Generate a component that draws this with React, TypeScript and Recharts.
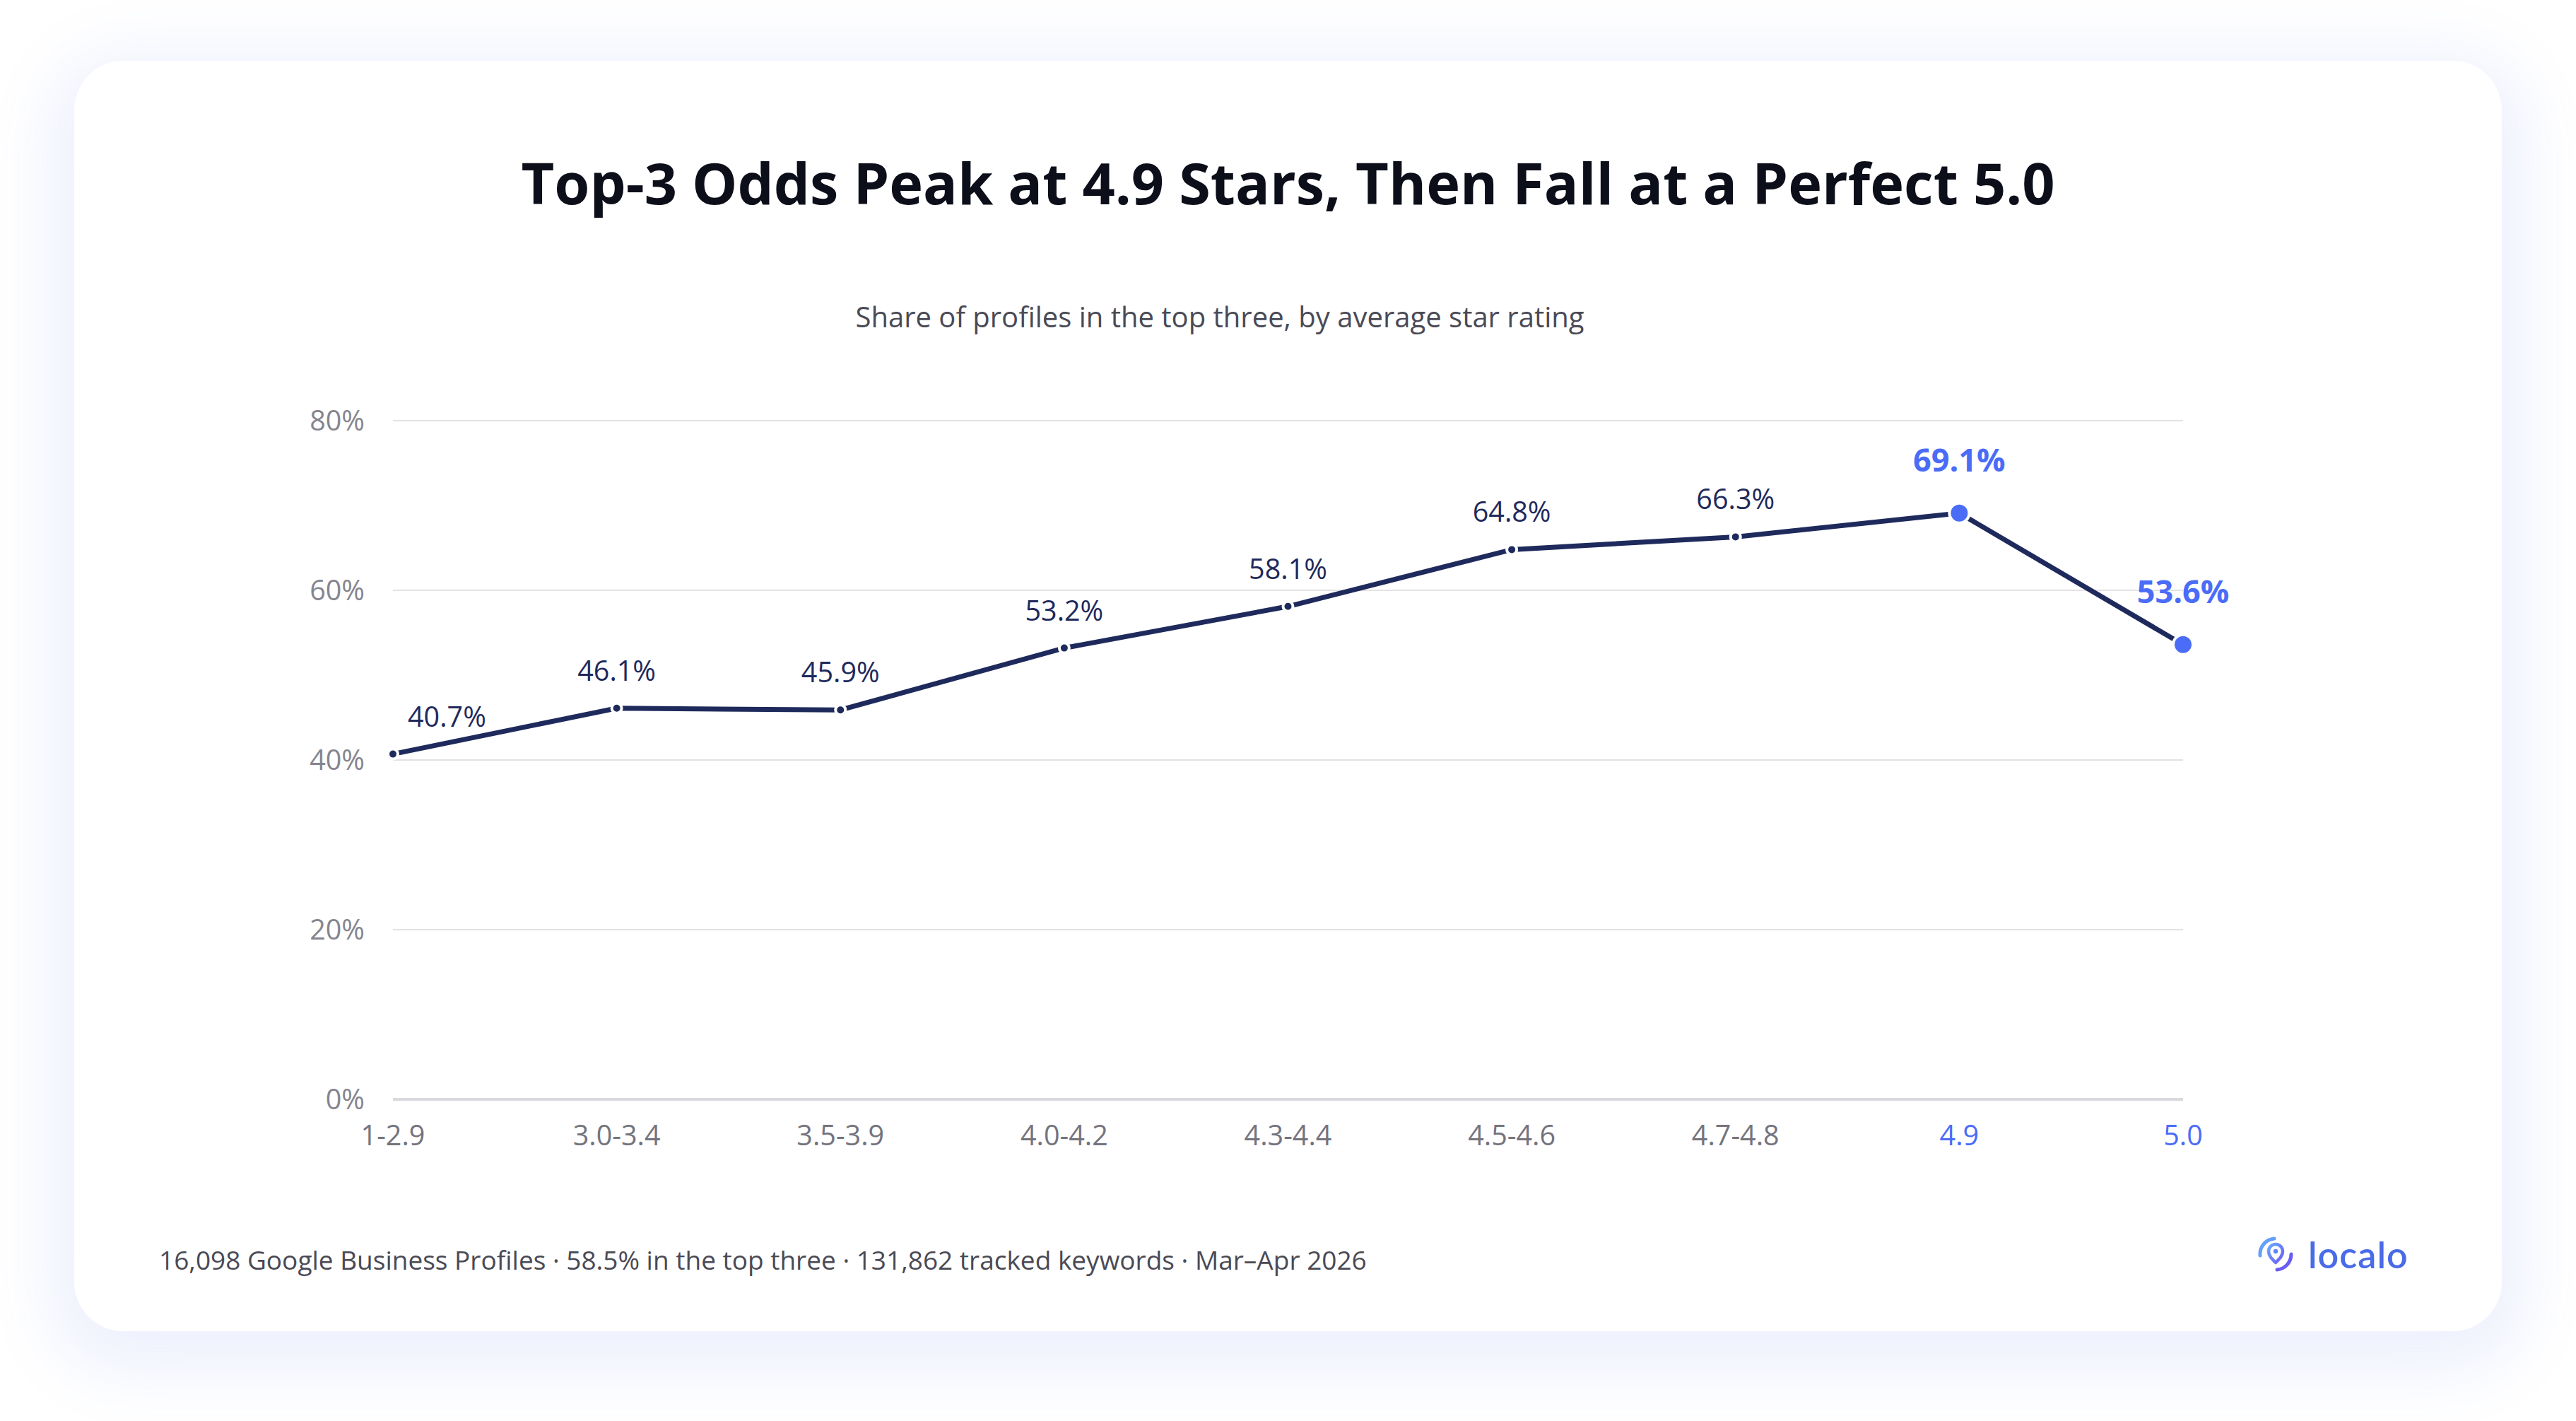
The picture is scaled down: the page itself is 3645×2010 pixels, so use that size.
import { LineChart, Line, XAxis, YAxis, CartesianGrid, LabelList } from "recharts";

// share of profiles in the top three, per star-rating bucket
const CATEGORIES = ["1-2.9", "3.0-3.4", "3.5-3.9", "4.0-4.2", "4.3-4.4", "4.5-4.6", "4.7-4.8", "4.9", "5.0"];
const SHARE = [40.7, 46.1, 45.9, 53.2, 58.1, 64.8, 66.3, 69.1, 53.6];
const HIGHLIGHTED = ["4.9", "5.0"];
const Y_TICKS = [0, 20, 40, 60, 80];

const TITLE = "Top-3 Odds Peak at 4.9 Stars, Then Fall at a Perfect 5.0";
const SUBTITLE = "Share of profiles in the top three, by average star rating";
const FOOTNOTE =
  "16,098 Google Business Profiles · 58.5% in the top three · 131,862 tracked keywords · Mar–Apr 2026";

const data = CATEGORIES.map((rating, i) => ({ rating, share: SHARE[i] }));

const NAVY = "#1f2a5c";
const BLUE = "#4a6cf7";
const FONT = "'Open Sans', Lato, sans-serif";

const W = 3645;
const H = 2010;

const isHot = (cat: string) => HIGHLIGHTED.includes(cat);

function XTick(props: any) {
  const { x, y, payload } = props;
  const hot = isHot(payload.value);
  return (
    <text
      x={x}
      y={y}
      dy={57}
      textAnchor="middle"
      fontFamily={FONT}
      fontSize={39.5}
      fill={hot ? BLUE : "#74747e"}
    >
      {payload.value}
    </text>
  );
}

function YTick(props: any) {
  const { x, y, payload } = props;
  return (
    <text
      x={x - 32}
      y={y}
      dy={14}
      textAnchor="end"
      fontFamily={FONT}
      fontSize={39.5}
      fill="#85858e"
    >
      {payload.value}%
    </text>
  );
}

function PointDot(props: any) {
  const { cx, cy, index, payload } = props;
  const hot = isHot(payload.rating);
  return (
    <circle
      key={`dot-${index}`}
      cx={cx}
      cy={cy}
      r={hot ? 14 : 7}
      fill={hot ? BLUE : NAVY}
      stroke="#fff"
      strokeWidth={4}
    />
  );
}

function PointLabel(props: any) {
  const x = props.x ?? props.viewBox?.x;
  const y = props.y ?? props.viewBox?.y;
  const { index, value } = props;
  const hot = isHot(CATEGORIES[index]);
  const first = index === 0;
  return (
    <text
      x={first ? x + 21 : x}
      y={hot ? y - 59 : y - 39}
      textAnchor={first ? "start" : "middle"}
      fontFamily={FONT}
      fontSize={hot ? 45 : 39.5}
      fontWeight={hot ? 700 : 500}
      fill={hot ? BLUE : NAVY}
    >
      {value.toFixed(1)}%
    </text>
  );
}

function Logo() {
  return (
    <div
      style={{
        position: "absolute",
        left: 3188,
        top: 1742,
        display: "flex",
        alignItems: "center",
        gap: 14,
      }}
    >
      <svg width={64} height={64} viewBox="0 0 64 64">
        <defs>
          <linearGradient id="lg" x1="0" y1="0" x2="1" y2="1">
            <stop offset="0%" stopColor="#69a7ff" />
            <stop offset="100%" stopColor="#6a5cf5" />
          </linearGradient>
        </defs>
        <path d="M10 34 A22 22 0 0 1 30 10" fill="none" stroke="#62a0fb" strokeWidth={5} strokeLinecap="round" />
        <path d="M54 32 A22 22 0 0 1 34 54" fill="none" stroke="#6a5cf5" strokeWidth={5} strokeLinecap="round" />
        <path
          d="M32 44 C26 38 22 34 22 28 A10 10 0 0 1 42 28 C42 34 38 38 32 44 Z"
          fill="none"
          stroke="url(#lg)"
          strokeWidth={4.5}
          strokeLinejoin="round"
        />
        <circle cx={32} cy={28} r={3.2} fill="#5f86f5" />
      </svg>
      <span
        style={{
          fontFamily: "Lato, sans-serif",
          fontSize: 52,
          fontWeight: 600,
          color: "#4a6be8",
          letterSpacing: 1,
          lineHeight: 1,
        }}
      >
        localo
      </span>
    </div>
  );
}

export default function App() {
  return (
    <div
      style={{
        position: "absolute",
        left: 0,
        top: 0,
        width: W,
        height: H,
        background: "#ffffff",
        overflow: "hidden",
        fontFamily: FONT,
      }}
    >
      <div
        style={{
          position: "absolute",
          left: 105,
          top: 86,
          width: 3435,
          height: 1797,
          borderRadius: 70,
          background: "#fff",
          boxShadow: "0 24px 90px 34px rgba(90,120,240,0.10)",
        }}
      />

      <div
        style={{
          position: "absolute",
          left: 105,
          width: 3435,
          top: 208,
          textAlign: "center",
          fontSize: 81,
          fontWeight: 700,
          color: "#0c0e1a",
          lineHeight: "100px",
        }}
      >
        {TITLE}
      </div>

      <div
        style={{
          position: "absolute",
          left: 1726 - 800,
          width: 1600,
          top: 423,
          textAlign: "center",
          fontSize: 40,
          color: "#4a4a55",
          lineHeight: "50px",
        }}
      >
        {SUBTITLE}
      </div>

      <div style={{ position: "absolute", left: 0, top: 0 }}>
        <LineChart
          width={W}
          height={H}
          data={data}
          margin={{ top: 595, right: 556, bottom: 375, left: 436 }}
        >
          <CartesianGrid vertical={false} stroke="#e2e2e6" strokeWidth={2} />
          <XAxis
            dataKey="rating"
            height={80}
            tickLine={false}
            axisLine={{ stroke: "#dadade", strokeWidth: 4 }}
            tick={<XTick />}
            interval={0}
          />
          <YAxis
            width={120}
            domain={[0, 80]}
            ticks={Y_TICKS}
            axisLine={false}
            tickLine={false}
            tick={<YTick />}
          />
          <Line
            type="linear"
            dataKey="share"
            stroke={NAVY}
            strokeWidth={7}
            dot={PointDot}
            activeDot={false}
            isAnimationActive={false}
          >
            <LabelList dataKey="share" content={PointLabel} />
          </Line>
        </LineChart>
      </div>

      <div
        style={{
          position: "absolute",
          left: 225,
          top: 1758,
          fontSize: 37,
          color: "#4a4a55",
          lineHeight: "48px",
        }}
      >
        {FOOTNOTE}
      </div>

      <Logo />
    </div>
  );
}
